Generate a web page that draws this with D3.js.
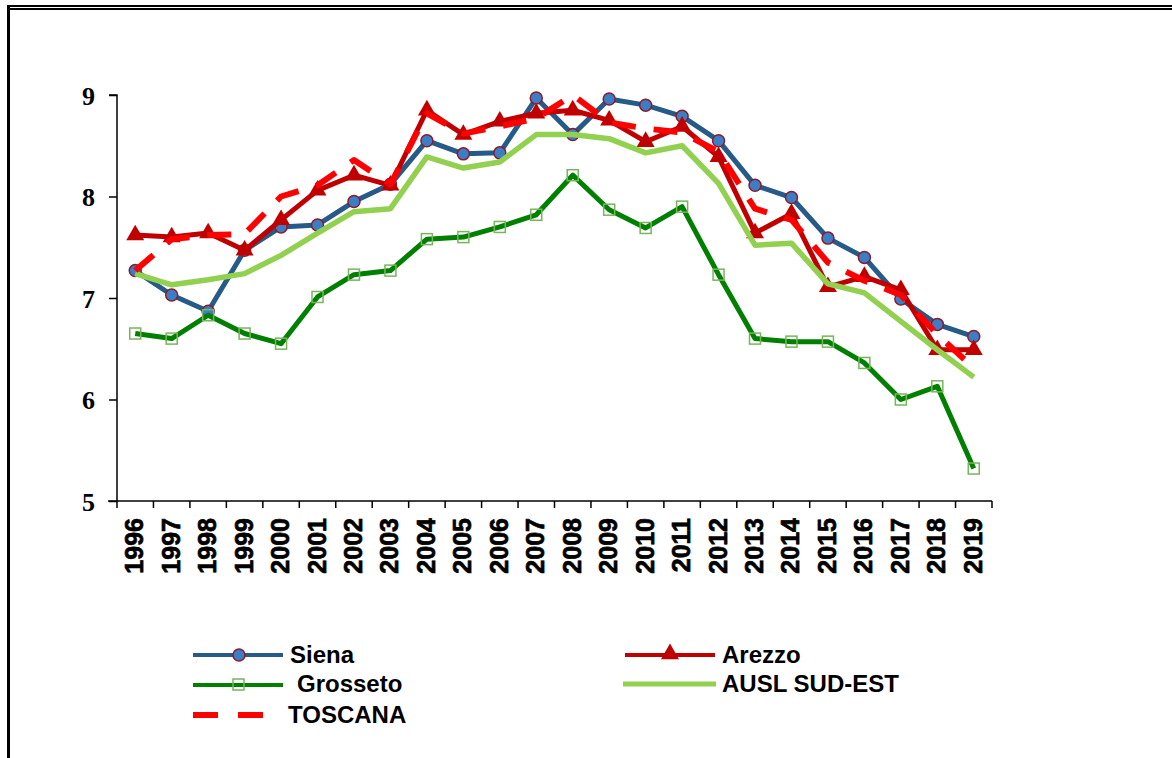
<!DOCTYPE html>
<html lang="it">
<head>
  <meta charset="UTF-8">
  <title>Siena, Arezzo, Grosseto, AUSL SUD-EST, TOSCANA</title>
  <script src="https://d3js.org/d3.v7.min.js"></script>
  <style>
    body { margin: 0; background: #fff; }
    svg { display: block; }
    .ylab { font-family: "Liberation Serif", serif; font-weight: bold; font-size: 26px; }
    .xlab { font-family: "Liberation Sans", Arial, sans-serif; font-weight: bold; font-size: 25px; stroke: #000; stroke-width: 0.7px; }
    .leg { font-family: "Liberation Sans", Arial, sans-serif; font-weight: bold; font-size: 24px; }
  </style>
</head>
<body>
  <svg id="chart" width="1172" height="758"></svg>

  <script>
    const years = ["1996","1997","1998","1999","2000","2001","2002","2003","2004","2005","2006","2007",
                   "2008","2009","2010","2011","2012","2013","2014","2015","2016","2017","2018","2019"];
    const yTicks = [5, 6, 7, 8, 9];

    const siena    = [7.27,7.03,6.87,7.47,7.70,7.72,7.95,8.12,8.55,8.42,8.43,8.97,8.61,8.96,8.90,8.79,8.55,8.11,7.99,7.59,7.40,6.99,6.74,6.62];
    const arezzo   = [7.62,7.60,7.64,7.47,7.77,8.06,8.21,8.11,8.85,8.61,8.74,8.82,8.85,8.75,8.54,8.69,8.39,7.64,7.83,7.11,7.21,7.08,6.49,6.49];
    const grosseto = [6.65,6.60,6.83,6.65,6.55,7.01,7.23,7.27,7.58,7.60,7.70,7.82,8.21,7.87,7.69,7.90,7.23,6.60,6.57,6.57,6.36,6.00,6.13,5.32];
    const ausl     = [7.24,7.13,7.18,7.24,7.42,7.64,7.85,7.88,8.39,8.28,8.34,8.61,8.61,8.57,8.43,8.50,8.13,7.52,7.54,7.14,7.05,6.77,6.49,6.22];
    const toscana  = [7.27,7.58,7.62,7.63,8.00,8.11,8.36,8.12,8.82,8.62,8.69,8.77,9.00,8.73,8.67,8.63,8.44,7.88,7.77,7.35,7.17,7.03,6.64,6.31];

    const svg = d3.select("#chart");

    // frame (cut at right and bottom like the source)
    svg.append("rect").attr("x", 7).attr("y", 5).attr("width", 1165).attr("height", 2).attr("fill", "#000");
    svg.append("rect").attr("x", 7).attr("y", 8).attr("width", 1165).attr("height", 2).attr("fill", "#000");
    svg.append("rect").attr("x", 7).attr("y", 5).attr("width", 3).attr("height", 753).attr("fill", "#000");

    const x = d3.scaleBand().domain(years).range([117, 992]);
    const y = d3.scaleLinear().domain([5, 9]).range([501, 95]);
    const cx = d => x(d) + x.bandwidth() / 2;

    // y axis
    const yAxis = svg.append("g").attr("transform", "translate(117,0)")
      .call(d3.axisLeft(y).tickValues(yTicks).tickSize(8).tickPadding(14).tickFormat(d3.format("d")));
    yAxis.select(".domain").attr("stroke", "#000").attr("stroke-width", 1.5).attr("d", "M-8,95H0V501");
    yAxis.selectAll(".tick line").attr("stroke", "#000").attr("stroke-width", 1.5);
    yAxis.selectAll(".tick text").attr("class", "ylab").attr("fill", "#000").attr("dy", "0.35em");

    // x axis, ticks at band edges
    const xg = svg.append("g");
    xg.append("line").attr("x1", 108).attr("x2", 992).attr("y1", 501).attr("y2", 501)
      .attr("stroke", "#000").attr("stroke-width", 1.5);
    xg.selectAll("line.tk").data(years.concat(["end"])).enter().append("line")
      .attr("class", "tk")
      .attr("x1", (d, i) => x.range()[0] + i * x.step())
      .attr("x2", (d, i) => x.range()[0] + i * x.step())
      .attr("y1", 501).attr("y2", 508)
      .attr("stroke", "#000").attr("stroke-width", 1.5);
    xg.selectAll("text").data(years).enter().append("text")
      .attr("class", "xlab")
      .attr("transform", d => `translate(${cx(d) + 8},518) rotate(-90)`)
      .attr("text-anchor", "end")
      .text(d => d);

    const line = d3.line().x((d, i) => cx(years[i])).y(d => y(d));

    function drawLine(vals, color, width, dash) {
      svg.append("path").datum(vals)
        .attr("d", line)
        .attr("fill", "none")
        .attr("stroke", color)
        .attr("stroke-width", width)
        .attr("stroke-linejoin", "round")
        .attr("stroke-dasharray", dash || null);
    }

    const tri = d3.symbol().type(d3.symbolTriangle).size(140);

    // Siena
    drawLine(siena, "#265A88", 5);
    svg.selectAll("circle.siena").data(siena).enter().append("circle")
      .attr("cx", (d, i) => cx(years[i])).attr("cy", d => y(d)).attr("r", 6)
      .attr("fill", "#3C7EC6").attr("stroke", "#8A1C2C").attr("stroke-width", 1.5);

    // Arezzo
    drawLine(arezzo, "#C00000", 5);
    svg.selectAll("path.arezzo").data(arezzo).enter().append("path")
      .attr("d", tri)
      .attr("transform", (d, i) => `translate(${cx(years[i])},${y(d)})`)
      .attr("fill", "#C00000");

    // Grosseto
    drawLine(grosseto, "#008000", 5);
    svg.selectAll("rect.gro").data(grosseto).enter().append("rect")
      .attr("x", (d, i) => cx(years[i]) - 5.5).attr("y", d => y(d) - 5.5)
      .attr("width", 11).attr("height", 11)
      .attr("fill", "none").attr("stroke", "#79B45C").attr("stroke-width", 1.5);

    // AUSL SUD-EST
    drawLine(ausl, "#92D050", 5.5);

    // TOSCANA
    drawLine(toscana, "#FF0000", 6, "24,18");

    // legend
    const leg = svg.append("g");
    function legLine(x1, x2, yy, color, w, dash) {
      leg.append("line").attr("x1", x1).attr("x2", x2).attr("y1", yy).attr("y2", yy)
        .attr("stroke", color).attr("stroke-width", w).attr("stroke-dasharray", dash || null);
    }
    function legText(tx, ty, t) {
      leg.append("text").attr("class", "leg").attr("x", tx).attr("y", ty).text(t);
    }

    legLine(193, 283, 655, "#265A88", 4);
    leg.append("circle").attr("cx", 239).attr("cy", 655).attr("r", 6)
      .attr("fill", "#3C7EC6").attr("stroke", "#8A1C2C").attr("stroke-width", 1.5);
    legText(290, 663, "Siena");

    legLine(193, 283, 685, "#008000", 4);
    leg.append("rect").attr("x", 233).attr("y", 679).attr("width", 11).attr("height", 11)
      .attr("fill", "none").attr("stroke", "#79B45C").attr("stroke-width", 1.5);
    legText(297, 692, "Grosseto");

    legLine(193, 264, 715, "#FF0000", 6, "25,20");
    legText(288, 723, "TOSCANA");

    legLine(625, 715, 655, "#C00000", 4);
    leg.append("path").attr("d", tri).attr("transform", "translate(670,654)").attr("fill", "#C00000");
    legText(722, 663, "Arezzo");

    legLine(623, 716, 684, "#92D050", 5);
    legText(722, 692, "AUSL SUD-EST");
  </script>
</body>
</html>
